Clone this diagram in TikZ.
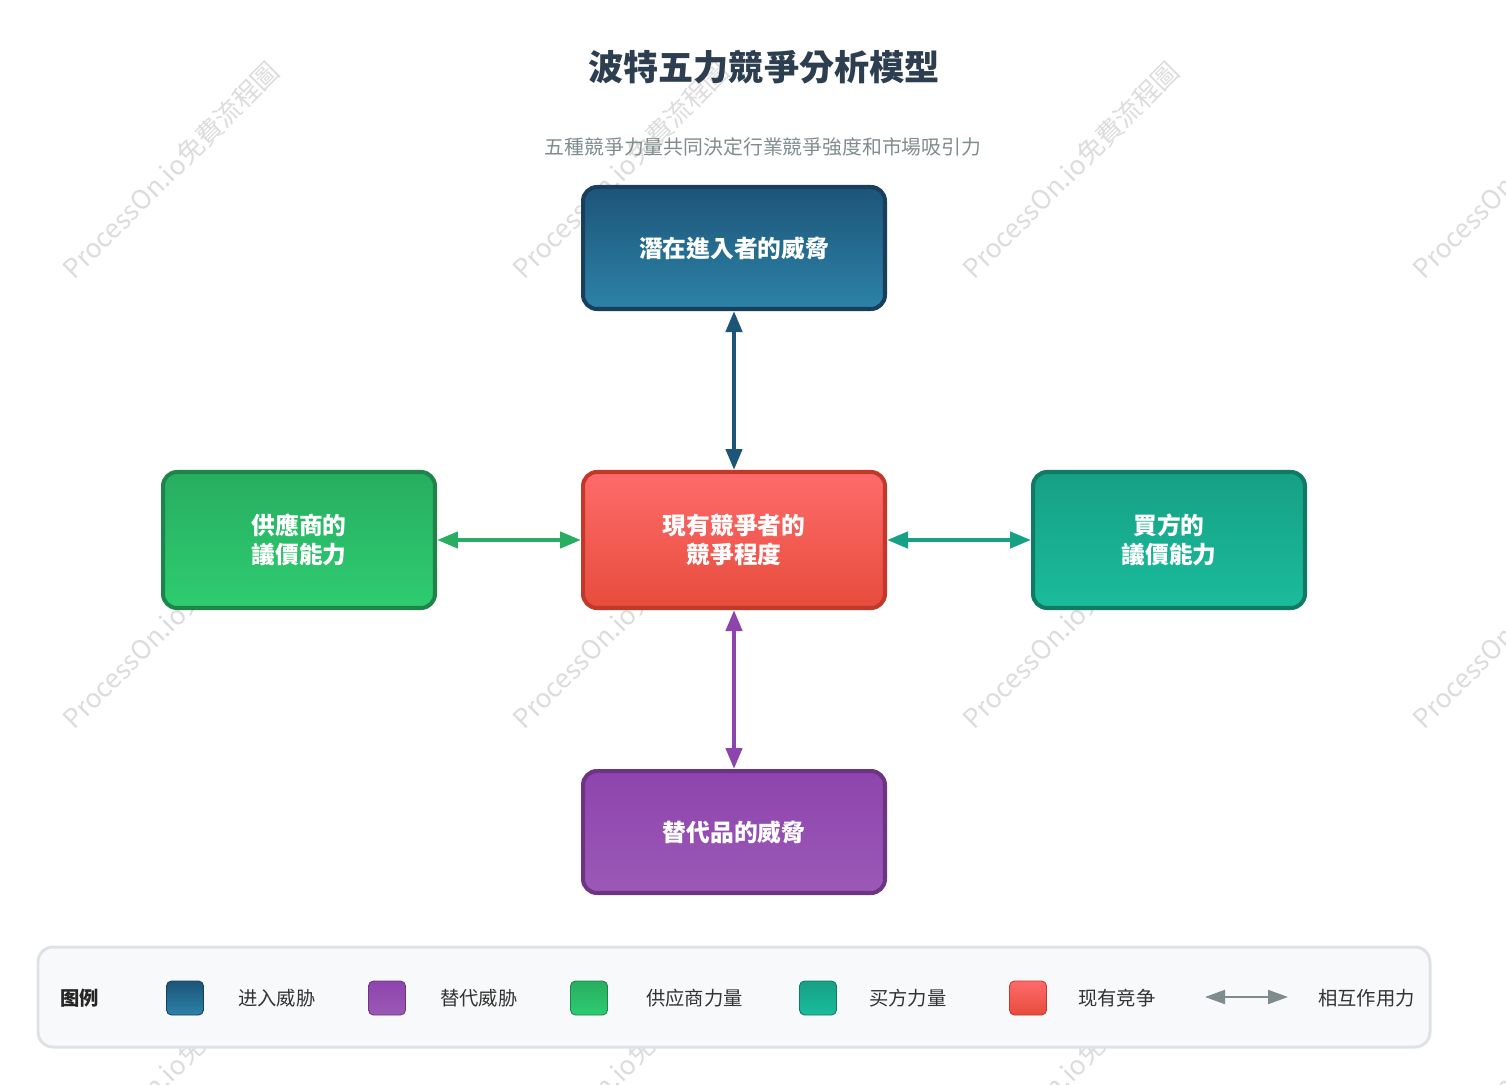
\documentclass[tikz,border=0pt]{standalone}
\usepackage{fontspec}
\setmainfont{Noto Sans CJK TC}
\newfontfamily\legendfont{Noto Sans CJK SC}
\usetikzlibrary{arrows.meta,positioning,calc}

\definecolor{titlecol}{HTML}{2C3E50}
\definecolor{subcol}{HTML}{7F8C8D}
\definecolor{entTop}{HTML}{1C5578}
\definecolor{entBot}{HTML}{2D82A8}
\definecolor{entLine}{HTML}{1A3F5C}
\definecolor{rivTop}{HTML}{FF6B6B}
\definecolor{rivBot}{HTML}{E74C3C}
\definecolor{rivLine}{HTML}{C0392B}
\definecolor{supTop}{HTML}{27AE60}
\definecolor{supBot}{HTML}{2ECC71}
\definecolor{supLine}{HTML}{1E8449}
\definecolor{buyTop}{HTML}{16A085}
\definecolor{buyBot}{HTML}{1ABC9C}
\definecolor{buyLine}{HTML}{117A65}
\definecolor{subTop}{HTML}{8E44AD}
\definecolor{subBot}{HTML}{9B59B6}
\definecolor{subLine}{HTML}{6C3483}
\definecolor{legFill}{HTML}{F8F9FA}
\definecolor{legLine}{HTML}{DEE2E6}
\definecolor{wmark}{HTML}{DCDCDC}

\begin{document}
\begin{tikzpicture}[
    x=0.02cm, y=-0.02cm,
    force box/.style={rounded corners=0.28cm, line width=2.3pt, minimum height=2.44cm,
        align=center, text=white, font=\fontsize{13.5}{16.5}\selectfont\bfseries},
    wide box/.style={force box, minimum width=6.04cm},
    side box/.style={force box, minimum width=5.44cm, minimum height=2.72cm},
    force arrow/.style={{Triangle[length=0.42cm,width=0.32cm]}-{Triangle[length=0.42cm,width=0.32cm]}, line width=2.5pt},
    swatch/.style={rounded corners=0.1cm, line width=0.5pt, minimum width=0.74cm, minimum height=0.68cm, inner sep=0pt},
    legend text/.style={anchor=west, font=\legendfont\fontsize{11}{13}\selectfont, text=black!80},
    watermark/.style={rotate=45, text=wmark, font=\fontsize{15}{18}\selectfont},
]
\useasboundingbox (0,0) rectangle (1506,1084);

% === Watermarks (behind everything) ===
\foreach \wx in {171,621,1071,1521}
  \foreach \wy in {170,620,1070}
    \node[watermark] at (\wx,\wy) {ProcessOn.io免費流程圖};

% === Title ===
\node[font=\fontsize{20}{24}\selectfont\bfseries, text=titlecol] (title) at (764,67) {波特五力競爭分析模型};
\node[font=\fontsize{11.3}{14}\selectfont, text=subcol] (subtitle) at (763,147) {五種競爭力量共同決定行業競爭強度和市場吸引力};

% === Five forces ===
\node[wide box, top color=entTop, bottom color=entBot, draw=entLine] (entrants) at (734,248) {潛在進入者的威脅};
\node[wide box, minimum height=2.72cm, top color=rivTop, bottom color=rivBot, draw=rivLine] (rivalry) at (734,540) {現有競爭者的\\競爭程度};
\node[side box, top color=supTop, bottom color=supBot, draw=supLine] (suppliers) at (299,540) {供應商的\\議價能力};
\node[side box, top color=buyTop, bottom color=buyBot, draw=buyLine] (buyers) at (1169,540) {買方的\\議價能力};
\node[wide box, top color=subTop, bottom color=subBot, draw=subLine] (substitutes) at (734,832) {替代品的威脅};

% Interactions
\draw[force arrow, entTop] (entrants) -- (rivalry);
\draw[force arrow, supTop] (suppliers) -- (rivalry);
\draw[force arrow, buyTop] (rivalry) -- (buyers);
\draw[force arrow, subTop] (rivalry) -- (substitutes);

% === Legend ===
\draw[fill=legFill, draw=legLine, line width=1.7pt, rounded corners=0.3cm] (38,947) rectangle (1430,1047);
\node[anchor=west, font=\legendfont\fontsize{11}{13}\selectfont\bfseries, text=black!85] (legendtitle) at (54,998) {图例};

\node[swatch, top color=entTop, bottom color=entBot, draw=entLine] (swEnt) at (185,998) {};
\node[legend text] at (232,998) {进入威胁};
\node[swatch, top color=subTop, bottom color=subBot, draw=subLine] (swSub) at (387,998) {};
\node[legend text] at (434,998) {替代威胁};
\node[swatch, top color=supTop, bottom color=supBot, draw=supLine] (swSup) at (589,998) {};
\node[legend text] at (640,998) {供应商力量};
\node[swatch, top color=buyTop, bottom color=buyBot, draw=buyLine] (swBuy) at (818,998) {};
\node[legend text] at (863,998) {买方力量};
\node[swatch, top color=rivTop, bottom color=rivBot, draw=rivLine] (swRiv) at (1028,998) {};
\node[legend text] at (1072,998) {现有竞争};

\coordinate (la) at (1205,997);
\coordinate (lb) at (1288,997);
\draw[{Triangle[length=0.4cm,width=0.28cm]}-{Triangle[length=0.4cm,width=0.28cm]}, line width=1.2pt, subcol] (la) -- (lb);
\node[legend text] at (1312,998) {相互作用力};

\end{tikzpicture}
\end{document}
